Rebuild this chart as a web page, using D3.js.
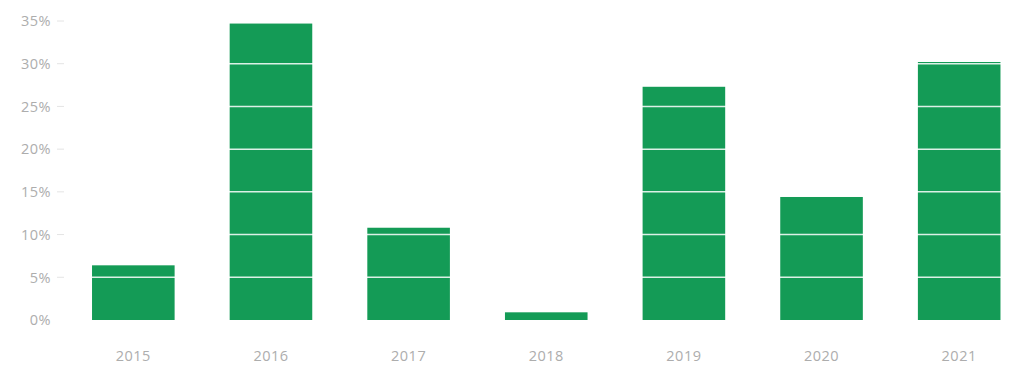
<!DOCTYPE html>
<html>
<head>
<meta charset="utf-8">
<script src="https://cdn.jsdelivr.net/npm/d3@7"></script>
<style>
  body { margin: 0; background: #fff; }
  text { font-family: "Open Sans", sans-serif; letter-spacing: 0.5px; }
</style>
</head>
<body>
<div id="chart"></div>
<script>
const years = ["2015", "2016", "2017", "2018", "2019", "2020", "2021"];
const values = [6.4, 34.7, 10.8, 0.9, 27.3, 14.4, 30.2];
const yTicks = [0, 5, 10, 15, 20, 25, 30, 35];

const width = 1024;
const height = 388;

const svg = d3.select("#chart")
  .append("svg")
  .attr("width", width)
  .attr("height", height);

const x = d3.scaleBand()
  .domain(years)
  .range([64.5, 1028])
  .paddingInner(0.4)
  .paddingOuter(0.2);

const y = d3.scaleLinear()
  .domain([0, 35])
  .range([320, 21]);

// bars
svg.selectAll("rect.bar")
  .data(values)
  .join("rect")
  .attr("class", "bar")
  .attr("x", (d, i) => x(years[i]))
  .attr("width", x.bandwidth())
  .attr("y", d => y(d))
  .attr("height", d => y(0) - y(d))
  .attr("fill", "#149b56");

// white grid lines, only visible where they cross the bars
svg.selectAll("line.grid")
  .data(yTicks.filter(t => t > 0))
  .join("line")
  .attr("class", "grid")
  .attr("x1", 66)
  .attr("x2", 1006)
  .attr("y1", d => y(d))
  .attr("y2", d => y(d))
  .attr("stroke", "#ffffff")
  .attr("stroke-opacity", 0.85)
  .attr("stroke-width", 1.5);

// y axis labels and little dashes
const yAxis = svg.append("g");
yAxis.selectAll("text")
  .data(yTicks)
  .join("text")
  .attr("x", 51)
  .attr("y", d => y(d))
  .attr("dy", "0.36em")
  .attr("text-anchor", "end")
  .attr("fill", "#adadad")
  .style("font-size", "14.5px")
  .text(d => d + "%");

yAxis.selectAll("line")
  .data(yTicks.filter(t => t > 0))
  .join("line")
  .attr("x1", 57)
  .attr("x2", 64)
  .attr("y1", d => y(d))
  .attr("y2", d => y(d))
  .attr("stroke", "#e4e4e4")
  .attr("stroke-width", 1);

// x axis labels
svg.selectAll("text.xlab")
  .data(years)
  .join("text")
  .attr("class", "xlab")
  .attr("x", d => x(d) + x.bandwidth() / 2)
  .attr("y", 356)
  .attr("dy", "0.36em")
  .attr("text-anchor", "middle")
  .attr("fill", "#adadad")
  .style("font-size", "14.5px")
  .text(d => d);
</script>
</body>
</html>
